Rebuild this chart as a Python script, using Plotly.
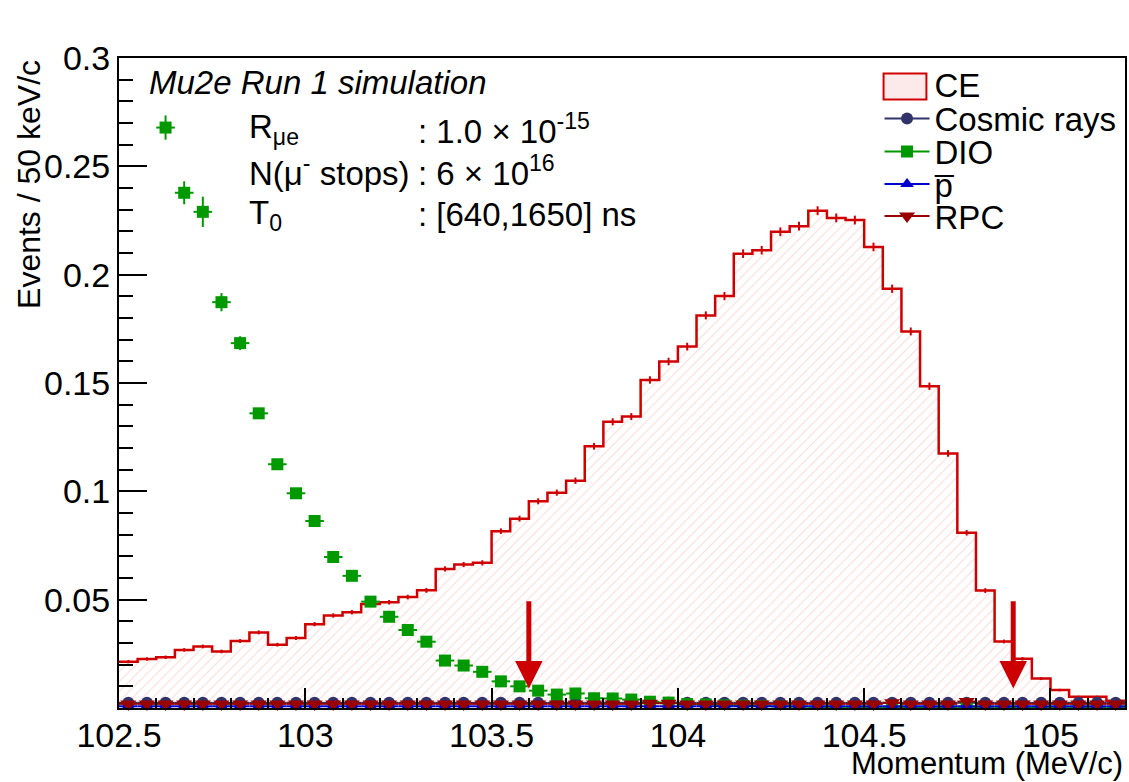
import numpy as np
import plotly.graph_objects as go

# ---------------- data ----------------
BIN_LO = 102.5
BIN_W = 0.05
NBINS = 54

ce = [0.0214, 0.0226, 0.0234, 0.0268, 0.0284, 0.0261, 0.0309, 0.0349, 0.0292, 0.0323,
      0.0387, 0.0427, 0.0442, 0.0480, 0.0488, 0.0512, 0.0543, 0.0642, 0.0662, 0.0670,
      0.0816, 0.0874, 0.0954, 0.0994, 0.1049, 0.1208, 0.1321, 0.1345, 0.1514, 0.1599,
      0.1668, 0.1812, 0.1901, 0.2097, 0.2113, 0.2198, 0.2224, 0.2295, 0.2262, 0.2252,
      0.2128, 0.1935, 0.1738, 0.1485, 0.1175, 0.0809, 0.0542, 0.0307, 0.0227, 0.0136,
      0.0083, 0.0052, 0.0052, 0.0034]

dio = [0.335, 0.312, 0.2679, 0.2378, 0.2290, 0.1873, 0.1684, 0.1360, 0.1125, 0.0991,
       0.0863, 0.0697, 0.0610, 0.0491, 0.0421, 0.0360, 0.0306, 0.0219, 0.0196, 0.0167,
       0.0123, 0.0100, 0.0080, 0.0062, 0.0067, 0.0045, 0.0044, 0.0039, 0.0029, 0.0025,
       0.0018, 0.0016, 0.0012, 0.0010, 0.0009, 0.0007, 0.0006, 0.0005, 0.0005, 0.0004,
       0.0004, 0.0003, 0.0003, 0.0003, 0.0002, 0.0002, 0.0002, 0.0002, 0.0001, 0.0001,
       0.0001, 0.0001, 0.0001, 0.0001]

dio_err = [0.0060, 0.0058, 0.0056, 0.0053, 0.0070, 0.0042, 0.0032, 0.0025, 0.0020, 0.0018,
           0.0016, 0.0014, 0.0013, 0.0011, 0.0010, 0.0009, 0.0009, 0.0007, 0.0007, 0.0006,
           0.0005, 0.0005, 0.0004, 0.0004, 0.0004, 0.0003, 0.0003, 0.0003, 0.0003, 0.0002,
           0.0002, 0.0002, 0.0002, 0.0002, 0.0001, 0.0001, 0.0001, 0.0001, 0.0001, 0.0001,
           0.0001, 0.0001, 0.0001, 0.0001, 0.0001, 0.0001, 0.0001, 0.0001, 0.0001, 0.0001,
           0.0001, 0.0001, 0.0001, 0.0001]

cosmic = [0.0024] * 54
pbar = [0.0008] * 54
rpc = [0.0019, 0.0019, 0.0019, 0.0019, 0.0019, 0.0019, 0.0019, 0.0019, 0.0019, 0.0019,
       0.0019, 0.0019, 0.0019, 0.0019, 0.0019, 0.0019, 0.0019, 0.0019, 0.0019, 0.0019,
       0.0019, 0.0019, 0.0019, 0.0019, 0.0019, 0.0019, 0.0019, 0.0019, 0.0022, 0.0022,
       0.0019, 0.0019, 0.0019, 0.0019, 0.0019, 0.0019, 0.0019, 0.0019, 0.0019, 0.0019,
       0.0019, 0.0024, 0.0019, 0.0019, 0.0019, 0.0030, 0.0019, 0.0019, 0.0019, 0.0019,
       0.0019, 0.0019, 0.0019, 0.0019]

cuts = [103.6, 104.9]
arrow_top = 0.05
arrow_tip = 0.009

x_ticks = [102.5, 103.0, 103.5, 104.0, 104.5, 105.0]
x_ticktext = ["102.5", "103", "103.5", "104", "104.5", "105"]
y_ticks = [0.05, 0.10, 0.15, 0.20, 0.25, 0.30]
y_ticktext = ["0.05", "0.1", "0.15", "0.2", "0.25", "0.3"]

# ---------------- derived ----------------
edges = BIN_LO + BIN_W * np.arange(NBINS + 1)
centers = edges[:-1] + BIN_W / 2
ce_arr = np.array(ce)
ce_err = np.sqrt(ce_arr * 1.5e-5) + 0.0002

FONT = "Liberation Sans, Arial, Helvetica, sans-serif"
RED = "#d00000"
GREEN = "#009a00"
NAVY = "#33336b"
BLUE = "#0000cc"
DRED = "#990000"

fig = go.Figure()

# CE hatched histogram
fig.add_trace(go.Scatter(
    x=edges, y=list(ce) + [ce[-1]], mode="lines",
    line=dict(shape="hv", color=RED, width=2.5),
    fill="tozeroy", fillcolor="rgba(0,0,0,0)",
    fillpattern=dict(shape="/", fgcolor="rgba(240,150,150,0.7)",
                     bgcolor="rgba(255,255,255,0)", size=7, solidity=0.15),
    showlegend=False, hoverinfo="skip"))
fig.add_trace(go.Scatter(
    x=centers, y=ce, mode="markers", marker=dict(size=1, color=RED),
    error_y=dict(type="data", array=ce_err, color=RED, thickness=2, width=0),
    showlegend=False, hoverinfo="skip"))
# CE legend entry (symbol box drawn as a shape)
fig.add_trace(go.Scatter(x=[None], y=[None], mode="lines",
                         line=dict(width=0, color="rgba(0,0,0,0)"),
                         name="CE", legend="legend"))


def points(yv, err, color, symbol, size, name, leg, clip):
    fig.add_trace(go.Scatter(
        x=centers, y=yv, mode="markers",
        marker=dict(symbol=symbol, size=size, color=color),
        error_x=dict(type="constant", value=BIN_W / 2, width=0, thickness=2, color=color),
        error_y=dict(type="data", array=err, width=0, thickness=2, color=color)
        if err is not None else None,
        cliponaxis=clip, showlegend=False, hoverinfo="skip"))
    fig.add_trace(go.Scatter(
        x=[None], y=[None], mode="lines+markers",
        marker=dict(symbol=symbol, size=size, color=color),
        line=dict(color=color, width=2), name=name, legend=leg))


points(cosmic, None, NAVY, "circle", 12, "Cosmic rays", "legend2", False)
points(dio, dio_err, GREEN, "square", 12, "DIO", "legend3", True)
points(pbar, None, BLUE, "triangle-up", 12, "p\u0305", "legend4", False)
points(rpc, None, DRED, "triangle-down", 14, "RPC", "legend5", False)

# arrows marking the momentum window
for c in cuts:
    fig.add_annotation(x=c, y=arrow_tip, ax=c, ay=arrow_top, xref="x", yref="y",
                       axref="x", ayref="y", text="", showarrow=True,
                       arrowhead=2, arrowsize=1.1, arrowwidth=5, arrowcolor="#cc0000")

# text block
def txt(s, x, y, size=33, xanchor="left"):
    fig.add_annotation(text=s, x=x, y=y, xref="paper", yref="paper",
                       xanchor=xanchor, yanchor="middle", showarrow=False,
                       font=dict(family=FONT, size=size, color="black"))

txt("<i>Mu2e Run 1 simulation</i>", 0.028, 0.963, size=33)
txt("R<sub>\u03bce</sub>", 0.127, 0.891, size=33)
txt(": 1.0 \u00d7 10<sup>-15</sup>", 0.295, 0.891, size=33)
txt("N(\u03bc<sup>-</sup> stops)", 0.127, 0.826, size=33)
txt(": 6 \u00d7 10<sup>16</sup>", 0.295, 0.826, size=33)
txt("T<sub>0</sub>", 0.127, 0.759, size=33)
txt(": [640,1650] ns", 0.295, 0.759, size=33)

# axis titles
fig.add_annotation(text="Events / 50 keV/c", x=-0.09, y=1.0, xref="paper", yref="paper",
                   textangle=-90, xanchor="center", yanchor="top", showarrow=False,
                   font=dict(family=FONT, size=32, color="black"))
fig.add_annotation(text="Momentum (MeV/c)", x=1.0, y=-0.086, xref="paper", yref="paper",
                   xanchor="right", yanchor="middle", showarrow=False,
                   font=dict(family=FONT, size=31, color="black"))

# legend: one legend per row for ROOT-like tight spacing
legend_rows = [0.960, 0.907, 0.856, 0.806, 0.757]
leg_common = dict(x=0.756, xanchor="left", yanchor="middle", bgcolor="rgba(0,0,0,0)",
                  borderwidth=0, font=dict(family=FONT, size=33, color="black"),
                  itemwidth=45)
layout_legends = {}
for i, yv in enumerate(legend_rows):
    key = "legend" if i == 0 else f"legend{i + 1}"
    layout_legends[key] = dict(y=yv, **leg_common)

# CE legend symbol: hatched-look box with red border
fig.add_shape(type="rect", xref="paper", yref="paper", x0=0.760, x1=0.8026,
              y0=0.936, y1=0.976, line=dict(color=RED, width=2),
              fillcolor="rgba(240,150,150,0.20)", layer="above")

fig.update_layout(
    width=1129, height=782,
    margin=dict(l=119, r=2, t=58, b=74),
    paper_bgcolor="white", plot_bgcolor="white",
    font=dict(family=FONT, size=33, color="black"),
    xaxis=dict(range=[102.5, 105.2], showline=True, linecolor="black", linewidth=2,
               mirror=True, ticks="inside", ticklen=20, tickwidth=1.5, tickcolor="black",
               tickvals=x_ticks, ticktext=x_ticktext, showgrid=False, zeroline=False,
               tickfont=dict(size=34), ticklabelstandoff=-4,
               minor=dict(ticks="inside", ticklen=10, dtick=0.1, tick0=102.5,
                          tickcolor="black", tickwidth=1.5, showgrid=False)),
    yaxis=dict(range=[0, 0.3], showline=True, linecolor="black", linewidth=2,
               mirror=True, ticks="inside", ticklen=28, tickwidth=1.5, tickcolor="black",
               tickvals=y_ticks, ticktext=y_ticktext, showgrid=False, zeroline=False,
               tickfont=dict(size=34),
               minor=dict(ticks="inside", ticklen=14, dtick=0.01, tick0=0,
                          tickcolor="black", tickwidth=1.5, showgrid=False)),
    showlegend=True,
    **layout_legends,
)

fig.write_html("out.html", config={"displayModeBar": False},
               post_script="document.body.style.margin='0px';")
